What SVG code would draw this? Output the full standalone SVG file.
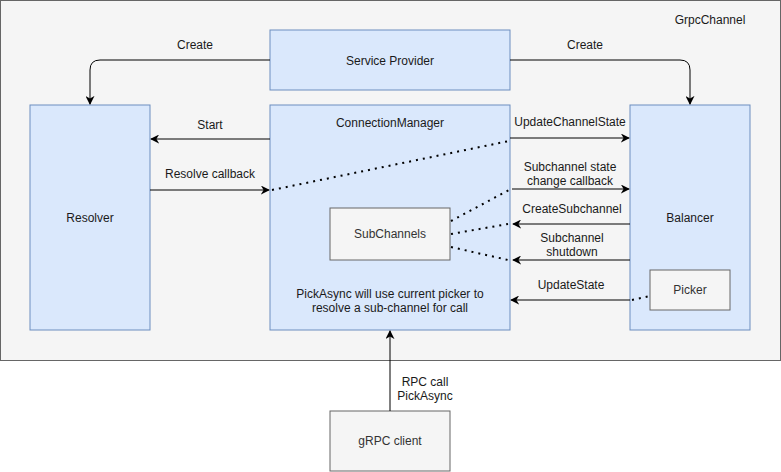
<svg xmlns="http://www.w3.org/2000/svg" width="781" height="472" viewBox="0 0 781 472">
<style>
text{font-family:"Liberation Sans",Arial,sans-serif;font-size:12px;fill:#1a1a1a}
.c{text-anchor:middle}
.blue{fill:#dae8fc;stroke:#6c8ebf;stroke-width:1}
.gray{fill:#f5f5f5;stroke:#666666;stroke-width:1}
.g{fill:#333333}
.ln{fill:none;stroke:#000;stroke-width:1}
.dot{fill:none;stroke:#000;stroke-width:2;stroke-dasharray:2 5}
</style>
<defs>
<marker id="arr" viewBox="0 0 10 10" refX="9" refY="5" markerWidth="9" markerHeight="9" markerUnits="userSpaceOnUse" orient="auto">
<path d="M0,0 L10,5 L0,10 L3,5 Z" fill="#000"/>
</marker>
</defs>
<g id="grpcchannel">
<rect class="gray" x="0.5" y="0.5" width="780" height="360"/>
<text class="c" x="710" y="24">GrpcChannel</text>
</g>
<g id="serviceprovider">
<rect class="blue" x="270" y="30" width="240" height="60"/>
<text class="c" x="390" y="65">Service Provider</text>
</g>
<g id="resolver">
<rect class="blue" x="30" y="105" width="120" height="225"/>
<text class="c" x="90" y="222">Resolver</text>
</g>
<g id="connectionmanager">
<rect class="blue" x="270" y="105" width="240" height="225"/>
<text class="c" x="390" y="127">ConnectionManager</text>
<text class="c" x="390" y="298">PickAsync will use current picker to</text>
<text class="c" x="390" y="312">resolve a sub-channel for call</text>
</g>
<g id="subchannels">
<rect class="gray" x="330" y="208" width="120" height="52"/>
<text class="c g" x="390" y="238">SubChannels</text>
</g>
<g id="balancer">
<rect class="blue" x="630" y="105" width="120" height="225"/>
<text class="c" x="690" y="222">Balancer</text>
</g>
<g id="picker">
<rect class="gray" x="650" y="270" width="80" height="40"/>
<text class="c g" x="690" y="294">Picker</text>
</g>
<g id="grpcclient">
<rect class="gray" x="330" y="411" width="120" height="60"/>
<text class="c g" x="390" y="445">gRPC client</text>
</g>
<g id="connectors">
<path class="ln" d="M270,60 H100 Q90,60 90,70 V104" marker-end="url(#arr)"/>
<text class="c" x="195" y="49">Create</text>
<path class="ln" d="M510,60 H680 Q690,60 690,70 V104" marker-end="url(#arr)"/>
<text class="c" x="585" y="49">Create</text>
<path class="ln" d="M270,139 H151" marker-end="url(#arr)"/>
<text class="c" x="210" y="129">Start</text>
<path class="ln" d="M150,190 H269" marker-end="url(#arr)"/>
<text class="c" x="210" y="178">Resolve callback</text>
<path class="dot" d="M272,190 L509,141"/>
<path class="ln" d="M510,138 H629" marker-end="url(#arr)"/>
<text class="c" x="570" y="126">UpdateChannelState</text>
<path class="ln" d="M512,189 H629" marker-end="url(#arr)"/>
<text class="c" x="570" y="171">Subchannel state</text>
<text class="c" x="570" y="185">change callback</text>
<path class="dot" d="M451,221 L509,190"/>
<path class="ln" d="M630,224 H513" marker-end="url(#arr)"/>
<text class="c" x="572" y="213">CreateSubchannel</text>
<path class="dot" d="M451,234 L508,224"/>
<path class="ln" d="M630,260 H513" marker-end="url(#arr)"/>
<text class="c" x="572" y="242">Subchannel</text>
<text class="c" x="572" y="256">shutdown</text>
<path class="dot" d="M451,247 L508,260"/>
<path class="ln" d="M630,300 H511" marker-end="url(#arr)"/>
<text class="c" x="571" y="289">UpdateState</text>
<path class="dot" d="M632,300 L650,296"/>
<path class="ln" d="M390,411 V331" marker-end="url(#arr)"/>
<text class="c" x="425" y="386">RPC call</text>
<text class="c" x="425" y="400">PickAsync</text>
</g>
</svg>
